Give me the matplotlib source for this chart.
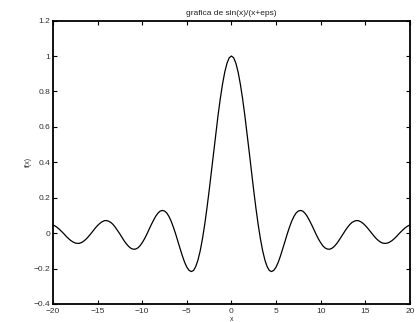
import numpy as np
import matplotlib
matplotlib.use("Agg")
import matplotlib.pyplot as plt

plt.rcParams['font.family'] = ['Liberation Sans', 'DejaVu Sans']

x_values = np.arange(-20, 20.001, 0.25)
y_values = [
    0.046, 0.040, 0.031, 0.020, 0.008, -0.005, -0.019, -0.031, -0.042, -0.050,
    -0.056, -0.058, -0.057, -0.052, -0.043, -0.032, -0.018, -0.003, 0.013, 0.029,
    0.043, 0.055, 0.064, 0.070, 0.071, 0.067, 0.060, 0.048, 0.032, 0.014,
    -0.005, -0.025, -0.045, -0.062, -0.076, -0.086, -0.091, -0.090, -0.084, -0.072,
    -0.054, -0.033, -0.008, 0.019, 0.046, 0.071, 0.094, 0.112, 0.124, 0.128,
    0.125, 0.114, 0.094, 0.067, 0.033, -0.005, -0.047, -0.088, -0.128, -0.164,
    -0.192, -0.210, -0.217, -0.211, -0.189, -0.152, -0.100, -0.033, 0.047, 0.139,
    0.239, 0.346, 0.455, 0.562, 0.665, 0.759, 0.841, 0.909, 0.959, 0.990,
    1.000, 0.990, 0.959, 0.909, 0.841, 0.759, 0.665, 0.562, 0.455, 0.346,
    0.239, 0.139, 0.047, -0.033, -0.100, -0.152, -0.189, -0.211, -0.217, -0.210,
    -0.192, -0.164, -0.128, -0.088, -0.047, -0.005, 0.033, 0.067, 0.094, 0.114,
    0.125, 0.128, 0.124, 0.112, 0.094, 0.071, 0.046, 0.019, -0.008, -0.033,
    -0.054, -0.072, -0.084, -0.090, -0.091, -0.086, -0.076, -0.062, -0.045, -0.025,
    -0.005, 0.014, 0.032, 0.048, 0.060, 0.067, 0.071, 0.070, 0.064, 0.055,
    0.043, 0.029, 0.013, -0.003, -0.018, -0.032, -0.043, -0.052, -0.057, -0.058,
    -0.056, -0.050, -0.042, -0.031, -0.019, -0.005, 0.008, 0.020, 0.031, 0.040,
    0.046,
]
x_ticks = [-20, -15, -10, -5, 0, 5, 10, 15, 20]
y_ticks = [-0.4, -0.2, 0, 0.2, 0.4, 0.6, 0.8, 1, 1.2]
y_tick_labels = ['\u22120.4', '\u22120.2', '0', '0.2', '0.4', '0.6', '0.8', '1', '1.2']
x_tick_labels = ['\u221220', '\u221215', '\u221210', '\u22125', '0', '5', '10', '15', '20']

fig = plt.figure(figsize=(4.17, 3.22), dpi=100)
ax = fig.add_axes([0.127, 0.056, 0.856, 0.880])
ax.plot(x_values, y_values, color='black', lw=0.9)
ax.set_xlim(-20, 20)
ax.set_ylim(-0.4, 1.2)
ax.set_xticks(x_ticks)
ax.set_xticklabels(x_tick_labels)
ax.set_yticks(y_ticks)
ax.set_yticklabels(y_tick_labels)
ax.tick_params(direction='in', length=3, width=0.8, labelsize=6, top=True, right=True,
               colors='black', labelcolor='#303030', pad=2)
ax.tick_params(axis='x', pad=3)
for s in ax.spines.values():
    s.set_linewidth(1.3)
ax.set_title('grafica de sin(x)/(x+eps)', fontsize=6, pad=4, color='#202020')
ax.set_xlabel('x', fontsize=5, labelpad=0.5, color='#303030')
ax.set_ylabel('f(x)', fontsize=5, labelpad=1, color='#303030')
fig.savefig('out.png', dpi=100)
